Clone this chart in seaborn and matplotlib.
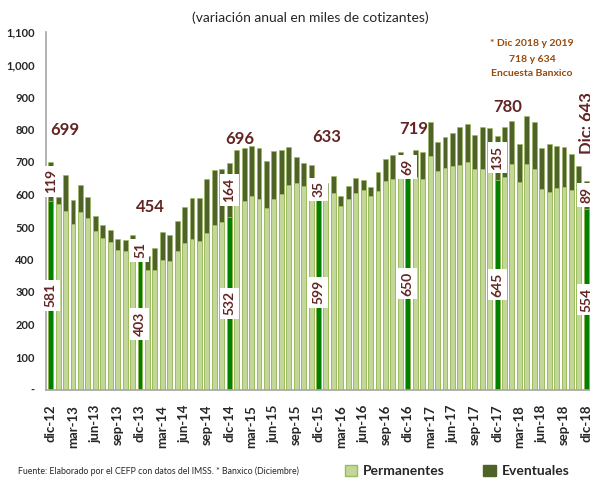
import numpy as np
import pandas as pd
import matplotlib
matplotlib.use("Agg")
import matplotlib.pyplot as plt
import seaborn as sns
from matplotlib.patches import Patch
from matplotlib.ticker import FuncFormatter

# Months dic-12 .. dic-18
mes = ["ene", "feb", "mar", "abr", "may", "jun", "jul", "ago", "sep", "oct", "nov", "dic"]
months = ["dic-12"] + [f"{m}-{y}" for y in range(13, 19) for m in mes]

# Permanent workers (annual change, thousands)
perm = [581, 571, 550, 509, 547, 528, 488, 465, 455, 429, 427, 440,
        403, 368, 368, 398, 396, 425, 450, 464, 457, 481, 506, 514,
        532, 567, 581, 594, 586, 557, 586, 601, 629, 636, 627, 636,
        599, 600, 606, 565, 586, 604, 614, 595, 611, 642, 647, 652,
        650, 655, 648, 719, 672, 683, 688, 691, 699, 677, 677, 675,
        645, 655, 693, 639, 693, 678, 616, 609, 619, 622, 614, 612,
        554]

# Total = permanentes + eventuales
total = [700, 593, 660, 583, 629, 593, 534, 506, 491, 463, 461, 474,
         454, 410, 435, 485, 476, 517, 561, 589, 590, 648, 675, 680,
         696, 737, 742, 749, 744, 703, 733, 738, 745, 714, 697, 692,
         634, 635, 657, 596, 625, 650, 645, 624, 669, 710, 723, 731,
         719, 737, 730, 822, 761, 776, 790, 807, 818, 782, 807, 804,
         780, 807, 827, 756, 843, 823, 742, 756, 749, 745, 724, 688,
         643]

# December labels
dic_perm_lbl = [581, 403, 532, 599, 650, 645, 554]
dic_event_lbl = [119, 51, 164, 35, 69, 135, 89]
dic_total_lbl = [699, 454, 696, 633, 719, 780]

# label offsets for the December totals (layout only)
tot_dx = [1.9, 1.35, 1.4, 1.15, 0.85, 1.45]
tot_dy = [98, 108, 75, 144, 82, 89]

light = "#C4D79B"
light_edge = "#9BBB59"
dark = "#4F6228"
dic_green = "#008000"
red_lbl = "#632523"
note_col = "#984807"

sns.set_style("white")
plt.rcParams['font.family'] = ['Lato', 'DejaVu Sans']

df = pd.DataFrame({"mes": months, "perm": perm, "total": total})
df["tipo"] = np.where(df["mes"].str.startswith("dic"), "dic", "otro")
dic_idx = list(df.index[df["tipo"] == "dic"])

fig = plt.figure(figsize=(5.9, 4.78), dpi=100)
ax = fig.add_axes([46 / 590, 88.5 / 478, 551.5 / 590, 357.5 / 478])

sns.barplot(data=df, x="mes", y="total", color=dark, saturation=1, width=0.66,
            edgecolor=light_edge, linewidth=0.4, ax=ax)
sns.barplot(data=df, x="mes", y="perm", hue="tipo", palette={"dic": dic_green, "otro": light},
            dodge=False, saturation=1, width=0.66, legend=False,
            edgecolor=light_edge, linewidth=0.6, ax=ax)

ax.set_xlim(-0.63, 73.5)
ax.set_ylim(0, 1100)
ax.set_yticks(range(0, 1101, 100))
ax.yaxis.set_major_formatter(FuncFormatter(lambda v, _: "-" if v == 0 else f"{int(v):,}"))
ax.set_xticks(range(0, len(months), 3))
ax.set_xticklabels(months[::3], rotation=90, fontweight="bold", fontsize=9.5)
for t in ax.get_yticklabels():
    t.set_fontweight("bold")
    t.set_fontsize(8)
ax.tick_params(axis="both", length=0)
ax.tick_params(axis="y", pad=8)
ax.tick_params(axis="x", pad=11)
ax.set_xlabel("")
ax.set_ylabel("")
sns.despine(ax=ax)
for s in ["left", "bottom"]:
    ax.spines[s].set_color("#A6A6A6")
    ax.spines[s].set_linewidth(1.2)

box = dict(facecolor="white", edgecolor="none", boxstyle="square,pad=0.25")
for k, i in enumerate(dic_idx):
    p = perm[i]
    ev = total[i] - p
    ax.text(i, p / 2, str(dic_perm_lbl[k]), rotation=90, ha="center", va="center",
            color=red_lbl, fontsize=10, fontweight="bold", bbox=box)
    ax.text(i, p + ev / 2, str(dic_event_lbl[k]), rotation=90, ha="center", va="center",
            color=red_lbl, fontsize=10, fontweight="bold", bbox=box)
    if k < len(dic_total_lbl):
        ax.text(i + tot_dx[k], total[i] + tot_dy[k], str(dic_total_lbl[k]), ha="center",
                va="center", color=red_lbl, fontsize=12, fontweight="bold")
    else:
        ax.text(i + 0.1, 820, f"Dic: {total[i]}", rotation=90, ha="center", va="center",
                color=red_lbl, fontsize=12, fontweight="bold")

fig.text(310 / 590, 1 - 18 / 478, "(variación anual en miles de cotizantes)",
         ha="center", va="center", fontsize=10)
for txt, yy in [("* Dic 2018 y 2019", 44), ("718 y 634", 59), ("Encuesta Banxico", 74)]:
    fig.text(532 / 590, 1 - yy / 478, txt, ha="center", va="center",
             fontsize=7.5, fontweight="bold", color=note_col)

fig.text(18 / 590, 1 - 471 / 478,
         "Fuente: Elaborado por el CEFP con datos del IMSS. * Banxico (Diciembre)",
         ha="left", va="center", fontsize=6.3)

handles = [Patch(facecolor=light, edgecolor=light_edge, label="Permanentes"),
           Patch(facecolor=dark, edgecolor=dark, label="Eventuales")]
fig.legend(handles=handles, loc="center", bbox_to_anchor=(457 / 590, 1 - 471 / 478),
           ncol=2, frameon=False, prop={"weight": "bold", "size": 10},
           handlelength=0.9, handleheight=0.9, handletextpad=0.4, columnspacing=2.8)

fig.savefig("out.png", dpi=100)
